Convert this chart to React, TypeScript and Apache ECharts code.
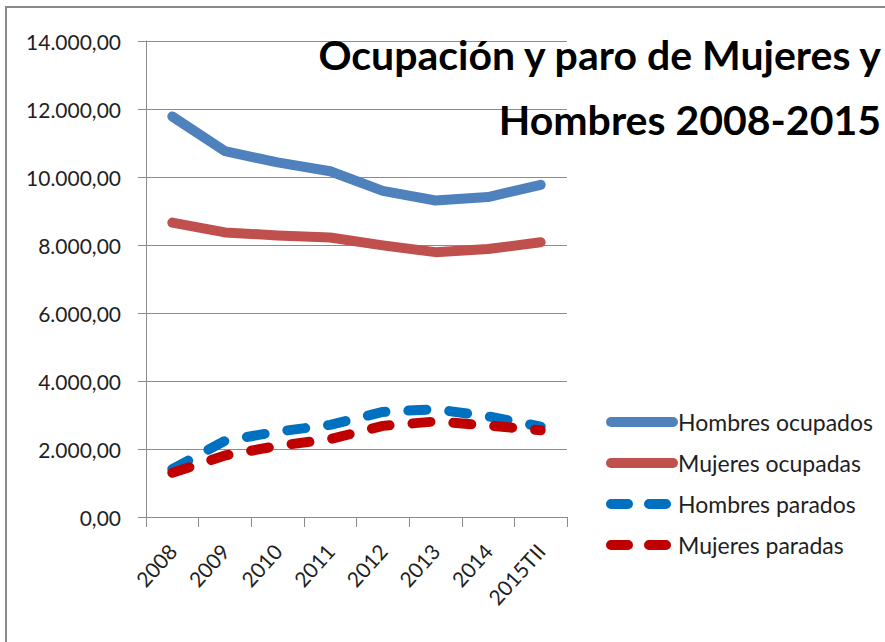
import React, { useEffect, useRef } from "react";
import * as echarts from "echarts";

const categories = ["2008", "2009", "2010", "2011", "2012", "2013", "2014", "2015TII"];
const hombresOcupados = [11780, 10760, 10430, 10170, 9590, 9310, 9410, 9770];
const mujeresOcupadas = [8660, 8370, 8280, 8220, 7990, 7790, 7880, 8080];
const hombresParados = [1410, 2240, 2510, 2710, 3090, 3170, 2960, 2660];
const mujeresParadas = [1300, 1810, 2090, 2290, 2680, 2810, 2690, 2550];
const seriesNames = ["Hombres ocupados", "Mujeres ocupadas", "Hombres parados", "Mujeres paradas"];
const titleText = "Ocupación y paro de Mujeres y\nHombres 2008-2015";

const FONT = "Lato, 'Noto Sans', sans-serif";
const TEXT = "#1f1f1f";
const GRID = "#8c8c8c";

function fmt(v: number): string {
  const s = Math.round(v).toString();
  const withDots = s.replace(/\B(?=(\d{3})+(?!\d))/g, ".");
  return withDots + ",00";
}

export default function App() {
  const ref = useRef<HTMLDivElement>(null);
  useEffect(() => {
    if (!ref.current) return;
    const chart = echarts.init(ref.current, undefined, { renderer: "svg" });
    const dash = [18, 23];
    const legendDash = [17, 21];
    chart.setOption({
      animation: false,
      backgroundColor: "#ffffff",
      textStyle: { fontFamily: FONT },
      title: {
        text: titleText,
        left: 876,
        top: 17,
        textAlign: "right",
        textStyle: {
          fontFamily: FONT,
          fontWeight: "bold",
          fontSize: 41,
          lineHeight: 65,
          color: "#000",
        },
      },
      graphic: [
        {
          type: "rect",
          shape: { x: 6, y: 7, width: 2000, height: 2000 },
          style: { fill: "none", stroke: "#8a8a8a", lineWidth: 2 },
          silent: true,
          z: -1,
        },
      ],
      legend: {
        orient: "vertical",
        left: 601,
        top: 404,
        itemWidth: 62,
        itemHeight: 10,
        itemGap: 15,
        data: [
          { name: seriesNames[0] },
          { name: seriesNames[1] },
          { name: seriesNames[2], lineStyle: { type: legendDash } },
          { name: seriesNames[3], lineStyle: { type: legendDash } },
        ],
        textStyle: { fontFamily: FONT, fontSize: 23, color: TEXT, lineHeight: 26 },
        lineStyle: { width: 10, cap: "round" },
        itemStyle: { color: "rgba(0,0,0,0)", borderWidth: 0, opacity: 0 },
      },
      grid: { left: 146, right: 318, top: 41, bottom: 125, containLabel: false },
      xAxis: {
        type: "category",
        data: categories,
        boundaryGap: true,
        axisLine: { lineStyle: { color: GRID, width: 1 } },
        axisTick: { show: true, length: 10, lineStyle: { color: GRID } },
        axisLabel: {
          rotate: 48,
          margin: 30,
          fontFamily: FONT,
          fontSize: 21,
          color: TEXT,
          interval: 0,
        },
      },
      yAxis: {
        type: "value",
        min: 0,
        max: 14000,
        interval: 2000,
        axisLine: { show: true, lineStyle: { color: GRID, width: 1 } },
        axisTick: { show: true, length: 8, lineStyle: { color: GRID } },
        splitLine: { lineStyle: { color: GRID, width: 1 } },
        axisLabel: {
          formatter: (v: number) => fmt(v),
          margin: 25,
          fontFamily: FONT,
          fontSize: 21,
          color: TEXT,
        },
      },
      series: [
        {
          name: seriesNames[0],
          type: "line",
          data: hombresOcupados,
          symbol: "none",
          color: "#4F81BD",
          lineStyle: { color: "#4F81BD", width: 10, cap: "round", join: "round" },
        },
        {
          name: seriesNames[1],
          type: "line",
          data: mujeresOcupadas,
          symbol: "none",
          color: "#C0504D",
          lineStyle: { color: "#C0504D", width: 10, cap: "round", join: "round" },
        },
        {
          name: seriesNames[2],
          type: "line",
          data: hombresParados,
          symbol: "none",
          color: "#0070C0",
          lineStyle: { color: "#0070C0", width: 10, cap: "round", join: "round", type: dash },
        },
        {
          name: seriesNames[3],
          type: "line",
          data: mujeresParadas,
          symbol: "none",
          color: "#C00000",
          lineStyle: { color: "#C00000", width: 10, cap: "round", join: "round", type: dash },
        },
      ],
    });
    return () => chart.dispose();
  }, []);
  return (
    <div
      ref={ref}
      style={{ position: "fixed", left: 0, top: 0, width: 885, height: 642 }}
    />
  );
}
